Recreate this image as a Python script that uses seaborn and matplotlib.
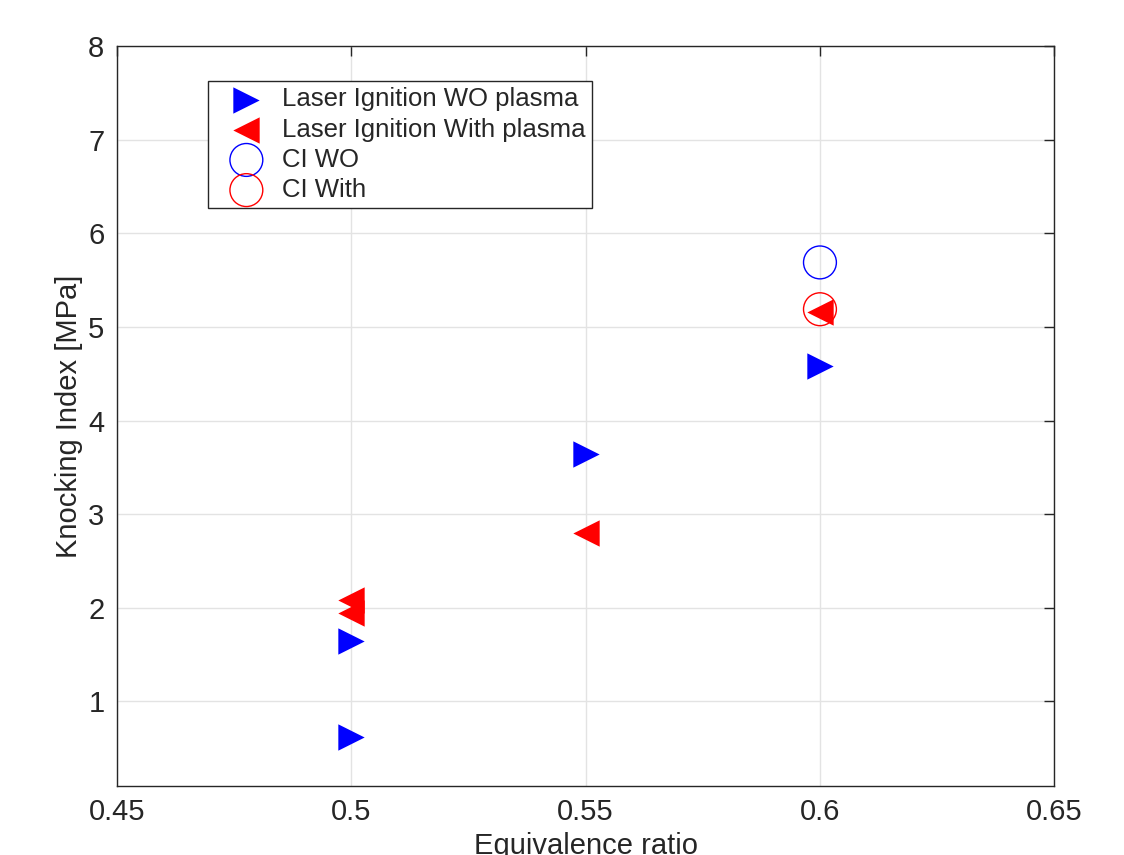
import matplotlib
matplotlib.use("Agg")
import matplotlib.pyplot as plt
import seaborn as sns
import pandas as pd

# Data
wo_x = [0.5, 0.5, 0.55, 0.6]
wo_y = [0.62, 1.65, 3.64, 4.58]
with_x = [0.5, 0.5, 0.55, 0.6]
with_y = [2.08, 1.95, 2.80, 5.16]
ci_wo_x = [0.6]
ci_wo_y = [5.69]
ci_with_x = [0.6]
ci_with_y = [5.19]

labels = ["Laser Ignition WO plasma", "Laser Ignition With plasma", "CI WO", "CI With"]
xticks = [0.45, 0.5, 0.55, 0.6, 0.65]
yticks = [1, 2, 3, 4, 5, 6, 7, 8]

sns.set_style("white")
plt.rcParams['font.family'] = ['Liberation Sans', 'DejaVu Sans']

fig = plt.figure(figsize=(11.24, 8.55), dpi=100)
ax = fig.add_axes([0.104, 0.081, 0.834, 0.865])

tri = 360
circ = 560
sns.scatterplot(x=wo_x, y=wo_y, marker=">", s=tri, color="#0000ff", edgecolor="#0000ff",
                linewidth=0, ax=ax, label=labels[0], zorder=3)
sns.scatterplot(x=with_x, y=with_y, marker="<", s=tri, color="#ff0000", edgecolor="#ff0000",
                linewidth=0, ax=ax, label=labels[1], zorder=3)
sns.scatterplot(x=ci_wo_x, y=ci_wo_y, marker="o", s=circ, facecolor="none", edgecolor="#0000ff",
                linewidth=1.0, ax=ax, label=labels[2], zorder=3)
sns.scatterplot(x=ci_with_x, y=ci_with_y, marker="o", s=circ, facecolor="none", edgecolor="#ff0000",
                linewidth=1.0, ax=ax, label=labels[3], zorder=3)

ax.set_xlim(0.45, 0.65)
ax.set_ylim(0.1, 8)
ax.set_xticks(xticks)
ax.set_xticklabels([f"{v:g}" for v in xticks])
ax.set_yticks(yticks)
ax.grid(True, color="#e3e3e3", linewidth=1.0)
ax.set_axisbelow(True)
for sp in ax.spines.values():
    sp.set_color("#262626")
    sp.set_linewidth(1.0)
ax.tick_params(direction="in", length=7, width=1, colors="#262626", labelsize=21,
               top=True, right=True, labelcolor="#262626", pad=9)
ax.set_xlabel("Equivalence ratio", fontsize=21, color="#262626", labelpad=4)
ax.set_ylabel("Knocking Index [MPa]", fontsize=21, color="#262626", labelpad=4)

leg = ax.legend(loc="upper left", bbox_to_anchor=(0.097, 0.953), fontsize=18.5,
                frameon=True, fancybox=False, edgecolor="#262626", framealpha=1,
                borderpad=0.25, labelspacing=0.24, handletextpad=0.15, borderaxespad=0,
                handlelength=2.5)
leg.get_frame().set_linewidth(1.0)

fig.savefig("out.png", dpi=100)
